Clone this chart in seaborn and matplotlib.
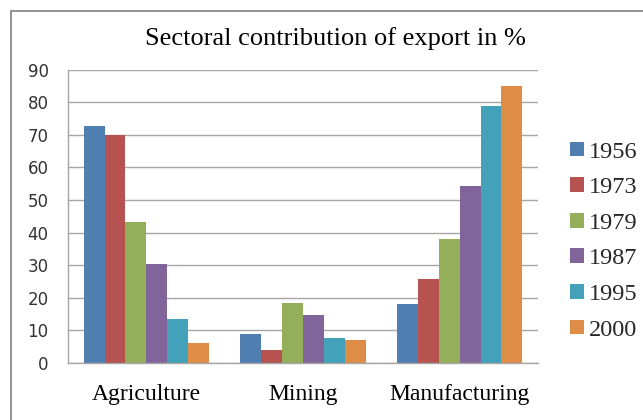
import matplotlib
matplotlib.use("Agg")
import matplotlib.pyplot as plt
import matplotlib.patches as mpatches
import seaborn as sns
import pandas as pd

sectors = ["Agriculture", "Mining", "Manufacturing"]
years = ["1956", "1973", "1979", "1987", "1995", "2000"]
v1956 = [72.6, 9.0, 18.1]
v1973 = [69.8, 4.1, 25.8]
v1979 = [43.3, 18.3, 38.1]
v1987 = [30.5, 14.7, 54.2]
v1995 = [13.5, 7.7, 78.9]
v2000 = [6.1, 7.1, 84.9]
colors = ["#4F7EB1", "#B65350", "#94AF59", "#80649A", "#43A2B9", "#DE8D47"]
title = "Sectoral contribution of export in %"
yticks = [0, 10, 20, 30, 40, 50, 60, 70, 80, 90]

series = [v1956, v1973, v1979, v1987, v1995, v2000]
rows = []
for y, vals in zip(years, series):
    for s, v in zip(sectors, vals):
        rows.append({"Sector": s, "Year": y, "Value": v})
df = pd.DataFrame(rows)

sns.set_theme(style="white")
plt.rcParams["font.family"] = ["DejaVu Sans"]

fig = plt.figure(figsize=(6.43, 4.20), dpi=100)
ax = fig.add_axes([0.1058, 0.1357, 0.7309, 0.6988])

sns.barplot(data=df, x="Sector", y="Value", hue="Year", order=sectors,
            hue_order=years, palette=colors, width=0.8, saturation=1,
            edgecolor="none", linewidth=0, ax=ax, legend=True)

ax.set_ylim(0, 90)
ax.set_xlim(-0.5, 2.5)
ax.set_yticks(yticks)
ax.set_yticklabels([str(t) for t in yticks], fontsize=12, color="#333333",
                   family="DejaVu Sans")
ax.yaxis.grid(True, color="#A6A6A6", linewidth=1)
ax.set_axisbelow(True)
ax.set_xlabel("")
ax.set_ylabel("")
ax.tick_params(axis="y", length=0, pad=14)
ax.tick_params(axis="x", length=0, pad=15)
for lab in ax.get_xticklabels():
    lab.set_family("Liberation Serif")
    lab.set_fontsize(17)
    lab.set_color("black")
for side in ["top", "right"]:
    ax.spines[side].set_visible(False)
for side in ["left", "bottom"]:
    ax.spines[side].set_color("#A6A6A6")
    ax.spines[side].set_linewidth(1)

handles, labels = ax.get_legend_handles_labels()
ax.legend(handles, labels, loc="center left", bbox_to_anchor=(0.872, 0.426),
          bbox_transform=fig.transFigure, frameon=False,
          prop={"family": "Liberation Serif", "size": 17.5},
          handlelength=0.55, handleheight=0.55, handletextpad=0.2,
          labelspacing=0.6, borderaxespad=0)

fig.text(335 / 643, 1 - 45 / 420, title, ha="center", va="baseline",
         family="Liberation Serif", fontsize=19, color="black")

border = mpatches.Rectangle((11 / 643, -0.05), 1.0, 1 - 11 / 420 + 0.05,
                            transform=fig.transFigure, fill=False,
                            edgecolor="#808080", linewidth=1.2)
fig.patches.append(border)

fig.savefig("out.png", dpi=100, facecolor="white")
